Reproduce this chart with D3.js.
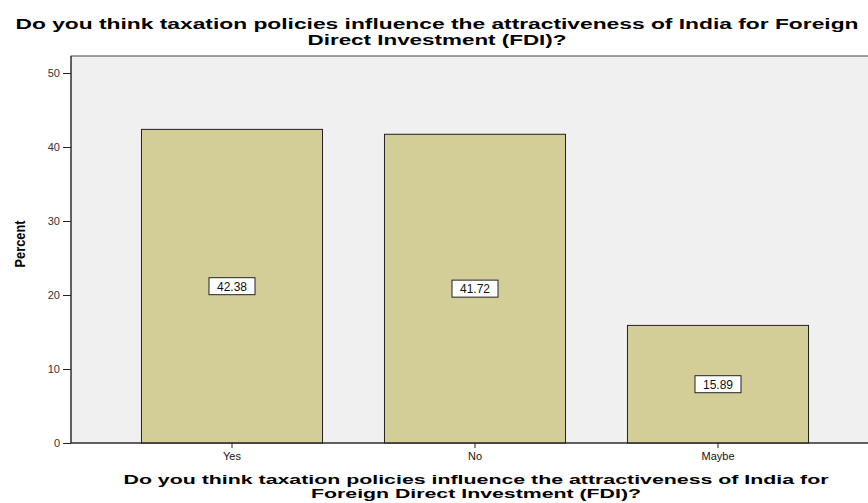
<!DOCTYPE html>
<html><head><meta charset="utf-8">
<script src="https://cdn.jsdelivr.net/npm/d3@7"></script>
<style>body{margin:0;background:#fff}svg{display:block}</style>
</head><body>
<svg id="c" width="868" height="503"></svg>
<script>
const categories = ["Yes", "No", "Maybe"];
const percents = [42.38, 41.72, 15.89];
const yTicks = [0, 10, 20, 30, 40, 50];
const titleLines = ["Do you think taxation policies influence the attractiveness of India for Foreign", "Direct Investment (FDI)?"];
const xTitleLines = ["Do you think taxation policies influence the attractiveness of India for", "Foreign Direct Investment (FDI)?"];
const yTitle = "Percent";

const svg = d3.select("#c");
const plot = {left: 71, top: 56, right: 880, bottom: 443};
const FONT = "Liberation Sans, Arial, sans-serif";

const y = d3.scaleLinear().domain([0, 50]).range([443, 73]);
const x = d3.scaleBand().domain(categories).range([110.5, 839.5]).paddingInner(0.255).paddingOuter(0.1275);

svg.append("rect").attr("x", plot.left).attr("y", plot.top)
  .attr("width", plot.right - plot.left).attr("height", plot.bottom - plot.top)
  .attr("fill", "#f0f0f0").attr("stroke", "#444").attr("stroke-width", 1);

svg.selectAll("rect.bar").data(categories).enter().append("rect").attr("class", "bar")
  .attr("x", d => x(d)).attr("width", x.bandwidth())
  .attr("y", (d, i) => y(percents[i])).attr("height", (d, i) => y(0) - y(percents[i]))
  .attr("fill", "#d3ce97").attr("stroke", "#222").attr("stroke-width", 1);

// y axis
const yAxis = svg.append("g").attr("transform", `translate(${plot.left},0)`)
  .call(d3.axisLeft(y).tickValues(yTicks).tickSize(8).tickPadding(3).tickFormat(d3.format("d")));
yAxis.select(".domain").attr("stroke", "#222").attr("d", `M0,${plot.top}V${plot.bottom}`);
yAxis.selectAll(".tick line").attr("stroke", "#222");
yAxis.selectAll("text").attr("font-family", FONT).attr("font-size", 11).attr("fill", "#333");

// x axis
const xAxis = svg.append("g").attr("transform", `translate(0,${plot.bottom})`)
  .call(d3.axisBottom(x).tickSize(5).tickPadding(4));
xAxis.select(".domain").attr("stroke", "#222").attr("d", `M${plot.left},0H868`);
xAxis.selectAll(".tick line").attr("stroke", "#222");
xAxis.selectAll("text").attr("font-family", FONT).attr("font-size", 11).attr("fill", "#111");

// value labels
const lab = svg.selectAll("g.lab").data(categories).enter().append("g").attr("class", "lab")
  .attr("transform", (d, i) => `translate(${x(d) + x.bandwidth() / 2},${(y(0) + y(percents[i])) / 2})`);
lab.append("rect").attr("x", -23).attr("y", -8.5).attr("width", 46).attr("height", 17)
  .attr("fill", "#fff").attr("stroke", "#222").attr("stroke-width", 1);
lab.append("text").attr("text-anchor", "middle").attr("dy", "0.36em")
  .attr("font-family", FONT).attr("font-size", 12).attr("fill", "#111")
  .text((d, i) => d3.format(".2f")(percents[i]));

// title
const titleLens = [843, 259];
svg.append("g").selectAll("text").data(titleLines).enter().append("text")
  .attr("text-anchor", "middle").attr("font-family", FONT)
  .attr("font-weight", "bold").attr("font-size", 14).attr("fill", "#000")
  .attr("x", 437).attr("y", (d, i) => 29 + i * 15.5)
  .attr("textLength", (d, i) => titleLens[i]).attr("lengthAdjust", "spacingAndGlyphs")
  .text(d => d);

// x title
const xTitleLens = [705, 330];
svg.append("g").selectAll("text").data(xTitleLines).enter().append("text")
  .attr("text-anchor", "middle").attr("font-family", FONT)
  .attr("font-weight", "bold").attr("font-size", 13).attr("fill", "#000")
  .attr("x", 476).attr("y", (d, i) => 484 + i * 14)
  .attr("textLength", (d, i) => xTitleLens[i]).attr("lengthAdjust", "spacingAndGlyphs")
  .text(d => d);

// y title
svg.append("text").attr("transform", "translate(25,244) rotate(-90)").attr("text-anchor", "middle")
  .attr("font-family", FONT).attr("font-weight", "bold")
  .attr("font-size", 14).attr("fill", "#000")
  .attr("textLength", 47).attr("lengthAdjust", "spacingAndGlyphs").text(yTitle);
</script>
</body></html>
